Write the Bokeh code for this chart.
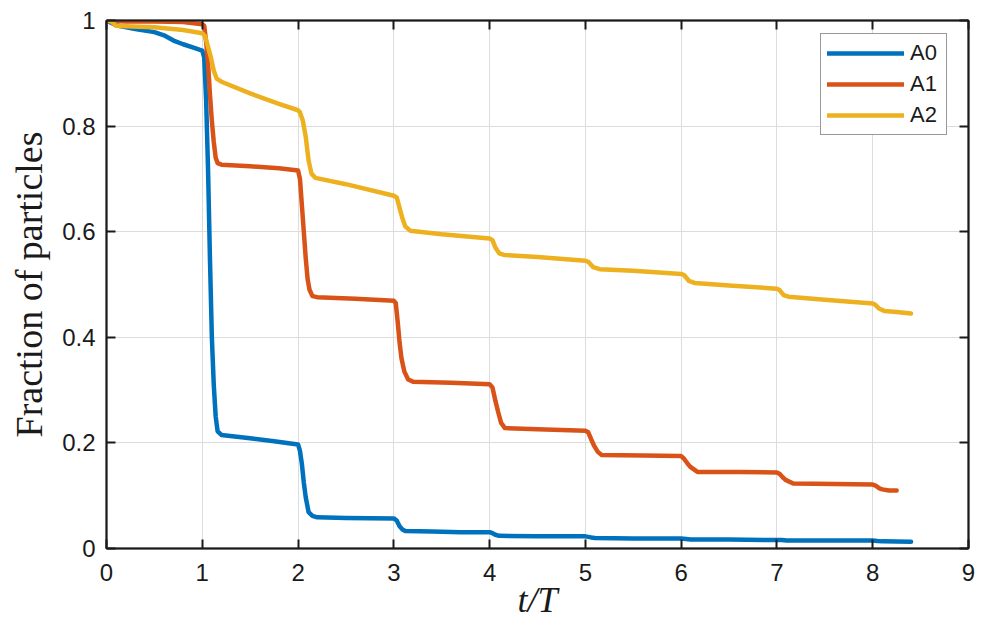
from bokeh.plotting import figure
from bokeh.models import LinearAxis, FixedTicker, Range1d, Legend, LegendItem
from bokeh.embed import file_html
from bokeh.resources import INLINE

# ---------------- data ----------------
series_names = ["A0", "A1", "A2"]
series_colors = ["#0072BD", "#D95319", "#EDB120"]

a0_t = [0, 0.1, 0.3, 0.5, 0.6, 0.7, 0.8, 0.9, 1.0, 1.02, 1.04, 1.06, 1.08, 1.1,
        1.12, 1.14, 1.16, 1.2, 1.5, 1.75, 2.0, 2.02, 2.04, 2.06, 2.08, 2.11,
        2.15, 2.2, 2.5, 3.0, 3.03, 3.06, 3.09, 3.12, 3.4, 3.7, 4.0, 4.03,
        4.06, 4.1, 4.5, 5.0, 5.03, 5.06, 5.1, 5.5, 6.0, 6.05, 6.1, 6.5, 7.0,
        7.05, 7.1, 7.5, 8.0, 8.05, 8.1, 8.4]
a0_y = [1.0, 0.991, 0.984, 0.978, 0.972, 0.962, 0.955, 0.949, 0.943, 0.93,
        0.85, 0.72, 0.55, 0.40, 0.31, 0.25, 0.222, 0.215, 0.209, 0.203, 0.197,
        0.185, 0.16, 0.125, 0.097, 0.069, 0.062, 0.059, 0.058, 0.057, 0.053,
        0.042, 0.036, 0.033, 0.032, 0.031, 0.031, 0.029, 0.026, 0.024, 0.023,
        0.023, 0.022, 0.021, 0.020, 0.019, 0.019, 0.018, 0.017, 0.017, 0.016,
        0.016, 0.015, 0.015, 0.015, 0.014, 0.0135, 0.013]

a1_t = [0, 0.2, 0.5, 0.8, 1.0, 1.02, 1.04, 1.06, 1.08, 1.1, 1.12, 1.14, 1.16,
        1.2, 1.5, 1.8, 2.0, 2.02, 2.04, 2.06, 2.08, 2.1, 2.12, 2.15, 2.2, 2.6,
        3.0, 3.02, 3.04, 3.06, 3.08, 3.11, 3.15, 3.2, 3.6, 4.0, 4.03, 4.06,
        4.09, 4.12, 4.16, 4.5, 5.0, 5.03, 5.06, 5.09, 5.13, 5.17, 5.6, 6.0,
        6.03, 6.07, 6.1, 6.17, 6.6, 7.0, 7.03, 7.06, 7.09, 7.17, 7.6, 8.0,
        8.03, 8.07, 8.1, 8.17, 8.25]
a1_y = [1.0, 0.998, 0.998, 0.997, 0.993, 0.99, 0.96, 0.92, 0.86, 0.81, 0.77,
        0.74, 0.73, 0.727, 0.724, 0.72, 0.716, 0.70, 0.65, 0.60, 0.55, 0.51,
        0.49, 0.478, 0.476, 0.473, 0.469, 0.465, 0.43, 0.39, 0.36, 0.335, 0.32,
        0.316, 0.314, 0.311, 0.305, 0.28, 0.258, 0.238, 0.228, 0.226, 0.223,
        0.22, 0.207, 0.195, 0.183, 0.177, 0.176, 0.175, 0.17, 0.16, 0.154,
        0.145, 0.145, 0.144, 0.141, 0.135, 0.13, 0.123, 0.122, 0.121, 0.119,
        0.114, 0.112, 0.110, 0.110]

a2_t = [0, 0.05, 0.1, 0.2, 0.5, 0.8, 1.0, 1.03, 1.06, 1.09, 1.12, 1.15, 1.2,
        1.5, 1.8, 2.0, 2.02, 2.05, 2.08, 2.11, 2.14, 2.18, 2.5, 3.0, 3.03,
        3.06, 3.09, 3.12, 3.17, 3.5, 4.0, 4.03, 4.06, 4.1, 4.15, 4.5, 5.0,
        5.03, 5.08, 5.15, 5.5, 6.0, 6.03, 6.08, 6.14, 6.5, 7.0, 7.03, 7.07,
        7.12, 7.5, 8.0, 8.03, 8.07, 8.12, 8.25, 8.4]
a2_y = [1.0, 0.998, 0.99, 0.989, 0.987, 0.982, 0.976, 0.97, 0.95, 0.93, 0.905,
        0.89, 0.884, 0.862, 0.842, 0.83, 0.826, 0.81, 0.78, 0.735, 0.71, 0.702,
        0.69, 0.668, 0.665, 0.645, 0.625, 0.61, 0.602, 0.595, 0.587, 0.584,
        0.57, 0.559, 0.556, 0.552, 0.545, 0.543, 0.533, 0.529, 0.526, 0.52,
        0.518, 0.507, 0.503, 0.498, 0.492, 0.489, 0.48, 0.477, 0.471, 0.464,
        0.461, 0.454, 0.45, 0.448, 0.445]

x_ticks = [0, 1, 2, 3, 4, 5, 6, 7, 8, 9]
x_tick_labels = ["0", "1", "2", "3", "4", "5", "6", "7", "8", "9"]
y_ticks = [0, 0.2, 0.4, 0.6, 0.8, 1.0]
y_tick_labels = ["0", "0.2", "0.4", "0.6", "0.8", "1"]
x_label = "t/T"
y_label = "Fraction of particles"

series_t = [a0_t, a1_t, a2_t]
series_y = [a0_y, a1_y, a2_y]

# ---------------- figure ----------------
AX = "#1a1a1a"
TICK_FONT = "Liberation Sans"

p = figure(width=990, height=628, output_backend="svg", toolbar_location=None,
           x_range=Range1d(0, 9), y_range=Range1d(0, 1),
           min_border_left=106, min_border_right=22, min_border_top=20,
           min_border_bottom=80)
p.background_fill_color = "white"
p.border_fill_color = "white"
p.outline_line_color = AX
p.outline_line_width = 1.5

items = []
for name, color, t, y in zip(series_names, series_colors, series_t, series_y):
    r = p.line(t, y, line_color=color, line_width=4.5, line_join="round",
               line_cap="round")
    items.append(LegendItem(label=name, renderers=[r]))

# grid
for g in (p.xgrid, p.ygrid):
    g.grid_line_color = "#dcdcdc"
    g.grid_line_width = 1
p.xgrid.ticker = FixedTicker(ticks=x_ticks)
p.ygrid.ticker = FixedTicker(ticks=y_ticks)


def style_axis(ax):
    ax.axis_line_color = AX
    ax.axis_line_width = 2
    ax.major_tick_line_color = AX
    ax.major_tick_line_width = 2
    ax.major_tick_in = 9
    ax.major_tick_out = 0
    ax.minor_tick_line_color = None
    ax.major_label_text_font = TICK_FONT
    ax.major_label_text_font_size = "24px"
    ax.major_label_text_color = AX


xa = p.xaxis[0]
ya = p.yaxis[0]
style_axis(xa)
style_axis(ya)
xa.ticker = FixedTicker(ticks=x_ticks)
ya.ticker = FixedTicker(ticks=y_ticks)
xa.major_label_overrides = dict(zip(x_ticks, x_tick_labels))
ya.major_label_overrides = dict(zip(y_ticks, y_tick_labels))
xa.major_label_standoff = 15
ya.major_label_standoff = 11

xa.axis_label = x_label
xa.axis_label_text_font = "Liberation Serif"
xa.axis_label_text_font_style = "italic"
xa.axis_label_text_font_size = "36px"
xa.axis_label_text_color = AX
xa.axis_label_standoff = -4

ya.axis_label = y_label
ya.axis_label_text_font = "Liberation Serif"
ya.axis_label_text_font_style = "normal"
ya.axis_label_text_font_size = "38px"
ya.axis_label_text_color = AX
ya.axis_label_standoff = 9

# box axes (ticks only, no labels drawn) on top and right
top_ax = LinearAxis(ticker=FixedTicker(ticks=x_ticks))
right_ax = LinearAxis(ticker=FixedTicker(ticks=y_ticks))
for ax in (top_ax, right_ax):
    style_axis(ax)
    ax.major_label_text_font_size = "1px"
    ax.major_label_text_color = None
    ax.major_label_standoff = 0
p.add_layout(top_ax, "above")
p.add_layout(right_ax, "right")

legend = Legend(items=items, location=(714, 413))
legend.label_text_font = TICK_FONT
legend.label_text_font_size = "22px"
legend.label_text_color = AX
legend.glyph_width = 77
legend.glyph_height = 22
legend.label_height = 22
legend.label_width = 30
legend.label_standoff = 6
legend.spacing = 5
legend.padding = 6
legend.margin = 0
legend.border_line_color = "#333333"
legend.border_line_width = 1
legend.background_fill_color = "white"
legend.background_fill_alpha = 1
p.add_layout(legend)

open("out.html", "w").write(file_html(p, INLINE))
